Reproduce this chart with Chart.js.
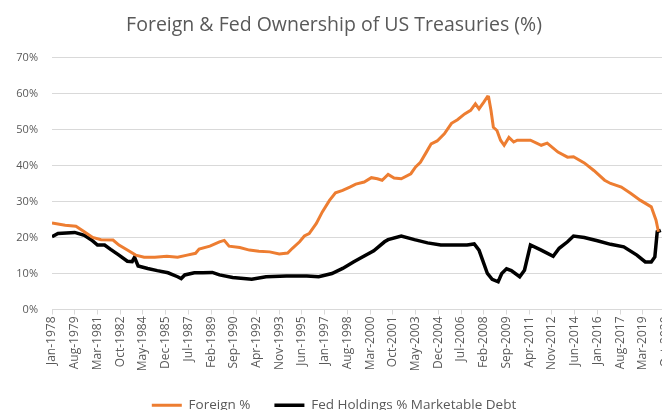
<!DOCTYPE html>
<html>
<head>
<meta charset="utf-8">
<script src="https://cdn.jsdelivr.net/npm/chart.js@4.4.1/dist/chart.umd.min.js"></script>
<style>
  html, body { margin: 0; padding: 0; background: #fff; overflow: hidden; }
  #wrap { width: 662px; height: 410px; overflow: hidden; position: relative; }
  #box { width: 690px; height: 422px; }
</style>
</head>
<body>
<div id="wrap"><div id="box"><canvas id="chart"></canvas></div></div>
<script>
const tickLabels = ['Jan-1978', 'Aug-1979', 'Mar-1981', 'Oct-1982', 'May-1984', 'Dec-1985', 'Jul-1987',
    'Feb-1989', 'Sep-1990', 'Apr-1992', 'Nov-1993', 'Jun-1995', 'Jan-1997', 'Aug-1998', 'Mar-2000',
    'Oct-2001', 'May-2003', 'Dec-2004', 'Jul-2006', 'Feb-2008', 'Sep-2009', 'Apr-2011', 'Nov-2012',
    'Jun-2014', 'Jan-2016', 'Aug-2017', 'Mar-2019', 'Oct-2020'];

// [month, percent]
const foreign = [
    ['1978-01', 24.0], ['1978-12', 23.4], ['1979-09', 23.1], ['1980-04', 21.6], ['1980-11', 20.0],
    ['1981-06', 19.4], ['1982-04', 19.3], ['1982-09', 17.9], ['1983-04', 16.5], ['1983-11', 15.1],
    ['1984-06', 14.5], ['1985-03', 14.5], ['1986-01', 14.8], ['1986-10', 14.5], ['1987-06', 15.1],
    ['1988-01', 15.6], ['1988-04', 16.8], ['1989-01', 17.6], ['1989-09', 18.8], ['1990-01', 19.2],
    ['1990-05', 17.6], ['1991-02', 17.2], ['1991-10', 16.5], ['1992-06', 16.2], ['1993-03', 16.0],
    ['1993-11', 15.4], ['1994-06', 15.7], ['1994-10', 17.0], ['1995-04', 18.8], ['1995-08', 20.4],
    ['1995-12', 21.1], ['1996-06', 23.9], ['1996-11', 27.1], ['1997-05', 30.3], ['1997-10', 32.4],
    ['1998-04', 33.1], ['1998-10', 34.0], ['1999-03', 34.8], ['1999-10', 35.4], ['2000-04', 36.6],
    ['2000-09', 36.3], ['2001-01', 35.9], ['2001-06', 37.5], ['2001-11', 36.5], ['2002-05', 36.3],
    ['2003-01', 37.7], ['2003-05', 39.6], ['2003-09', 40.9], ['2004-02', 43.7], ['2004-06', 46.0],
    ['2004-11', 46.8], ['2005-05', 48.8], ['2005-11', 51.7], ['2006-04', 52.7], ['2006-10', 54.3],
    ['2007-03', 55.3], ['2007-07', 57.1], ['2007-10', 55.7], ['2008-02', 57.6], ['2008-05', 59.1],
    ['2008-06', 59.0], ['2008-08', 55.3], ['2008-10', 50.6], ['2009-01', 49.7], ['2009-04', 47.0],
    ['2009-07', 45.6], ['2009-11', 47.8], ['2010-03', 46.5], ['2010-06', 47.0], ['2011-05', 47.0],
    ['2012-02', 45.6], ['2012-07', 46.2], ['2013-04', 43.7], ['2013-12', 42.3], ['2014-05', 42.4],
    ['2015-02', 40.7], ['2015-10', 38.6], ['2016-07', 35.9], ['2016-12', 35.0], ['2017-09', 34.0],
    ['2018-05', 32.2], ['2019-01', 30.3], ['2019-10', 28.5], ['2020-02', 24.8], ['2020-04', 21.6]
];

const fed = [
    ['1978-01', 20.2], ['1978-06', 21.1], ['1979-08', 21.4], ['1980-04', 20.6], ['1980-10', 19.3],
    ['1981-03', 17.9], ['1981-09', 17.9], ['1982-02', 16.7], ['1982-09', 15.1], ['1983-04', 13.4],
    ['1983-08', 13.3], ['1983-10', 14.5], ['1984-01', 12.1], ['1984-09', 11.4], ['1985-05', 10.8],
    ['1986-02', 10.2], ['1986-10', 9.1], ['1987-01', 8.6], ['1987-04', 9.6], ['1987-12', 10.2],
    ['1988-07', 10.2], ['1989-03', 10.3], ['1989-09', 9.6], ['1990-08', 8.9], ['1991-12', 8.4],
    ['1992-12', 9.1], ['1994-05', 9.3], ['1995-10', 9.3], ['1996-08', 9.1], ['1997-07', 10.0],
    ['1998-04', 11.4], ['1999-01', 13.2], ['1999-07', 14.3], ['2000-06', 16.3], ['2001-03', 18.8],
    ['2001-06', 19.4], ['2002-05', 20.4], ['2003-04', 19.4], ['2004-03', 18.5], ['2005-02', 17.9],
    ['2006-01', 17.9], ['2006-12', 17.9], ['2007-06', 18.2], ['2007-10', 16.5], ['2008-01', 13.7],
    ['2008-05', 10.0], ['2008-09', 8.4], ['2009-02', 7.7], ['2009-05', 10.0], ['2009-09', 11.3],
    ['2010-01', 10.8], ['2010-08', 9.1], ['2010-12', 10.9], ['2011-05', 17.9], ['2012-02', 16.5],
    ['2012-12', 14.8], ['2013-05', 17.0], ['2013-12', 18.8], ['2014-05', 20.4], ['2015-02', 20.0],
    ['2016-01', 19.1], ['2016-12', 18.1], ['2017-11', 17.4], ['2018-10', 15.1], ['2019-05', 13.2],
    ['2019-10', 13.2], ['2020-01', 14.6], ['2020-03', 21.6], ['2020-06', 22.0]
];

const MONTHS = ['Jan', 'Feb', 'Mar', 'Apr', 'May', 'Jun', 'Jul', 'Aug', 'Sep', 'Oct', 'Nov', 'Dec'];
const START_YEAR = 1978;

// months since Jan-1978, accepts "1978-01" or "Jan-1978"
function monthIndex(s) {
    const [a, b] = s.split('-');
    if (MONTHS.includes(a)) return (+b - START_YEAR) * 12 + MONTHS.indexOf(a);
    return (+a - START_YEAR) * 12 + (+b - 1);
}

const toXY = (rows) => rows.map(([d, v]) => ({ x: monthIndex(d), y: v }));

const gray = '#595959';
const gridGray = '#d9d9d9';
const font = 'Open Sans';

new Chart(document.getElementById('chart'), {
    type: 'line',
    data: {
        datasets: [{
            label: 'Foreign %',
            data: toXY(foreign),
            borderColor: '#ED7D31',
            backgroundColor: '#ED7D31',
            borderWidth: 3,
            pointRadius: 0,
            pointStyle: 'line',
        }, {
            label: 'Fed Holdings % Marketable Debt',
            data: toXY(fed),
            borderColor: '#000000',
            backgroundColor: '#000000',
            borderWidth: 3.5,
            pointRadius: 0,
            pointStyle: 'line',
        }],
    },
    options: {
        responsive: true,
        maintainAspectRatio: false,
        animation: false,
        layout: { padding: { left: 0, right: 22, top: 0, bottom: 0 } },
        plugins: {
            title: {
                display: true,
                text: 'Foreign & Fed Ownership of US Treasuries (%)',
                color: gray,
                font: { family: font, size: 19.5, weight: 'normal' },
                padding: { top: 14, bottom: 20 },
            },
            legend: {
                position: 'bottom',
                labels: {
                    color: gray,
                    font: { family: font, size: 13.5 },
                    usePointStyle: true,
                    pointStyleWidth: 30,
                    padding: 24,
                },
            },
            tooltip: { enabled: false },
        },
        scales: {
            x: {
                type: 'linear',
                min: 0,
                max: 515,
                afterBuildTicks: (s) => { s.ticks = tickLabels.map((l) => ({ value: monthIndex(l) })); },
                afterFit: (s) => { s.height = 65; },
                ticks: {
                    autoSkip: false,
                    minRotation: 90,
                    maxRotation: 90,
                    padding: 2,
                    color: gray,
                    font: { family: font, size: 12 },
                    callback: (v, i) => tickLabels[i],
                },
                grid: { drawOnChartArea: false, color: gridGray, tickLength: 5 },
                border: { color: gridGray },
            },
            y: {
                min: 0,
                max: 70,
                afterFit: (s) => { s.width = 52; },
                ticks: {
                    stepSize: 10,
                    padding: 14,
                    color: gray,
                    font: { family: font, size: 11 },
                    callback: (v) => v + '%',
                },
                grid: { color: gridGray, drawTicks: false },
                border: { display: false },
            },
        },
    },
});
</script>
</body>
</html>
